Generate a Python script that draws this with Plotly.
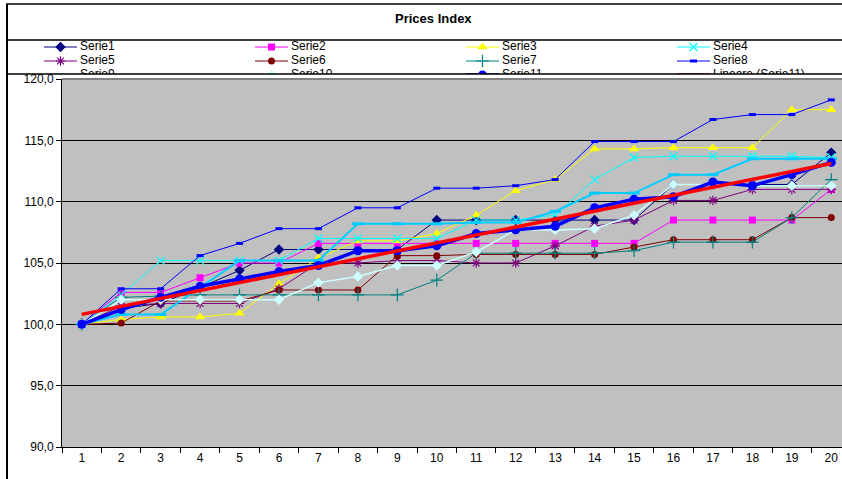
import numpy as np
import plotly.graph_objects as go

# ---- data -------------------------------------------------------------
categories = ["1", "2", "3", "4", "5", "6", "7", "8", "9", "10",
              "11", "12", "13", "14", "15", "16", "17", "18", "19", "20"]

serie1 = [100.0, 101.3, 101.7, 103.0, 104.4, 106.1, 106.1, 106.1, 106.1, 108.5,
          108.5, 108.5, 108.5, 108.5, 108.5, 111.4, 111.4, 111.4, 111.4, 114.0]
serie2 = [100.0, 102.6, 102.6, 103.8, 105.0, 105.0, 106.6, 106.6, 106.6, 106.6,
          106.6, 106.6, 106.6, 106.6, 106.6, 108.5, 108.5, 108.5, 108.5, 111.0]
serie3 = [100.0, 100.4, 100.6, 100.6, 100.9, 103.3, 105.4, 106.8, 106.8, 107.4,
          108.9, 110.9, 111.8, 114.3, 114.3, 114.4, 114.4, 114.4, 117.5, 117.5]
serie4 = [100.0, 102.4, 105.2, 105.2, 105.2, 105.2, 107.0, 107.0, 107.0, 107.0,
          108.5, 108.5, 108.9, 111.8, 113.6, 113.7, 113.7, 113.7, 113.7, 113.6]
serie5 = [100.0, 101.5, 101.7, 101.7, 101.7, 102.9, 105.0, 105.0, 105.2, 105.2,
          105.0, 105.0, 106.4, 108.0, 108.5, 110.1, 110.1, 111.0, 111.0, 111.0]
serie6 = [100.0, 100.1, 101.9, 101.9, 101.9, 102.8, 102.8, 102.8, 105.6, 105.6,
          105.7, 105.7, 105.7, 105.7, 106.3, 106.9, 106.9, 106.9, 108.7, 108.7]
serie7 = [100.0, 102.2, 102.3, 102.4, 102.4, 102.4, 102.4, 102.4, 102.4, 103.6,
          105.8, 105.8, 105.8, 105.8, 106.0, 106.7, 106.7, 106.7, 108.7, 111.8]
serie8 = [100.0, 102.9, 102.9, 105.6, 106.6, 107.8, 107.8, 109.5, 109.5, 111.1,
          111.1, 111.3, 111.8, 114.9, 114.9, 114.9, 116.7, 117.1, 117.1, 118.3]
serie9 = [100.0, 100.8, 100.8, 103.0, 105.2, 105.2, 105.2, 108.2, 108.2, 108.2,
          108.3, 108.3, 109.2, 110.7, 110.7, 112.2, 112.2, 113.5, 113.5, 113.5]
serie10 = [100.0, 102.0, 102.0, 102.0, 102.0, 102.0, 103.4, 103.9, 104.8, 104.8,
           105.9, 107.7, 107.7, 107.8, 108.9, 111.4, 111.4, 111.3, 111.3, 111.3]
serie11 = [100.0, 101.2, 102.2, 103.1, 103.7, 104.3, 104.8, 106.0, 106.0, 106.4,
           107.4, 107.7, 108.0, 109.5, 110.2, 110.4, 111.6, 111.3, 112.2, 113.2]

series_names = ["Serie1", "Serie2", "Serie3", "Serie4", "Serie5", "Serie6",
                "Serie7", "Serie8", "Serie9", "Serie10", "Serie11"]
series_values = [serie1, serie2, serie3, serie4, serie5, serie6,
                 serie7, serie8, serie9, serie10, serie11]
trend_name = "Lineare (Serie11)"

y_tick_values = [90, 95, 100, 105, 110, 115, 120]

# ---- styles -----------------------------------------------------------
# (colour, marker symbol, marker size, line width, marker line width)
styles = [
    ("#000080", "diamond", 8, 1.0, 0),
    ("#FF00FF", "square", 7, 1.0, 0),
    ("#FFFF00", "triangle-up", 9, 1.0, 0),
    ("#00FFFF", "x-thin", 8, 1.0, 1.2),
    ("#800080", "asterisk", 8, 1.0, 1.2),
    ("#800000", "circle", 7, 1.0, 0),
    ("#008080", "cross-thin", 9, 1.0, 1.2),
    ("#0000FF", "line-ew", 5, 1.0, 3),
    ("#00CCFF", "line-ew", 8, 2.0, 3),
    ("#CCFFFF", "diamond", 8, 1.5, 0),
    ("#0000FF", "circle", 9, 3.5, 0),
]
trend_color = "#FF0000"
trend_width = 3.5

FONT = "Arial, 'Liberation Sans', sans-serif"
W, H = 842, 479


def fx(p):
    return p / W


def fy(p):
    return 1 - p / H


def marker_for(style):
    color, symbol, size, _, mlw = style
    m = dict(symbol=symbol, size=size, color=color)
    if mlw:
        m["line"] = dict(color=color, width=mlw)
    else:
        m["line"] = dict(width=0)
    return m


fig = go.Figure()

# ---- series lines -----------------------------------------------------
for name, vals, st in zip(series_names, series_values, styles):
    fig.add_trace(go.Scatter(
        x=categories, y=vals, name=name, mode="lines+markers",
        line=dict(color=st[0], width=st[3]),
        marker=marker_for(st), showlegend=False,
        xaxis="x", yaxis="y",
    ))

# linear trend of Serie11
xs = np.arange(1, len(categories) + 1)
slope, intercept = np.polyfit(xs, serie11, 1)
trend = slope * xs + intercept
fig.add_trace(go.Scatter(
    x=categories, y=trend, name=trend_name, mode="lines",
    line=dict(color=trend_color, width=trend_width),
    showlegend=False, xaxis="x", yaxis="y",
))

# ---- legend drawn in its own (clipped) panel --------------------------
legend_labels = series_names + [trend_name]
legend_styles = styles + [(trend_color, None, 0, trend_width, 0)]
col_x0, col_dx = 80, 211
row_y0, row_dy = 47, 14
for i, (lab, st) in enumerate(zip(legend_labels, legend_styles)):
    col, row = i % 4, i // 4
    tx = col_x0 + col * col_dx
    ty = row_y0 + row * row_dy
    lw = st[3] if st[3] >= 2 else 1.2
    fig.add_trace(go.Scatter(
        x=[tx - 36, tx - 3], y=[ty, ty], mode="lines",
        line=dict(color=st[0], width=lw), showlegend=False,
        hoverinfo="skip", xaxis="x2", yaxis="y2", cliponaxis=True,
    ))
    if st[1]:
        fig.add_trace(go.Scatter(
            x=[tx - 19.5], y=[ty], mode="markers", marker=marker_for(st),
            showlegend=False, hoverinfo="skip", xaxis="x2", yaxis="y2",
            cliponaxis=True,
        ))
    fig.add_trace(go.Scatter(
        x=[tx], y=[ty], mode="text", text=[lab], textposition="middle right",
        textfont=dict(family=FONT, size=12, color="black"),
        showlegend=False, hoverinfo="skip", xaxis="x2", yaxis="y2",
        cliponaxis=True,
    ))

# ---- frame, plot area ------------------------------------------------
shapes = [
    # grey plot area
    dict(type="rect", xref="x domain", yref="y domain", x0=0, x1=1, y0=0, y1=1,
         fillcolor="#C0C0C0", line=dict(width=0), layer="below"),
    # top edge of the plot area
    dict(type="line", xref="x domain", yref="y domain", x0=0, x1=1, y0=1, y1=1,
         line=dict(color="#808080", width=2), layer="above"),
    # chart frame and title / legend boxes
    dict(type="line", xref="paper", yref="paper", x0=fx(6), x1=1, y0=fy(4), y1=fy(4),
         line=dict(color="black", width=1.5)),
    dict(type="line", xref="paper", yref="paper", x0=fx(6), x1=1, y0=fy(40), y1=fy(40),
         line=dict(color="black", width=1.5)),
    dict(type="line", xref="paper", yref="paper", x0=fx(6), x1=1, y0=fy(74), y1=fy(74),
         line=dict(color="black", width=1.5)),
    dict(type="line", xref="paper", yref="paper", x0=fx(7), x1=fx(7), y0=0, y1=fy(4),
         line=dict(color="black", width=2)),
]

fig.update_layout(
    width=W, height=H, autosize=False,
    margin=dict(l=0, r=0, t=0, b=0, pad=0, autoexpand=False),
    paper_bgcolor="white", plot_bgcolor="rgba(0,0,0,0)",
    separators=",.",
    font=dict(family=FONT, size=12, color="black"),
    showlegend=False,
    shapes=shapes,
    annotations=[dict(
        text="<b>Prices Index</b>", xref="paper", yref="paper",
        x=fx(433), y=fy(18), showarrow=False, xanchor="center", yanchor="middle",
        font=dict(family=FONT, size=13, color="black"),
    )],
    xaxis=dict(
        type="category", domain=[fx(62), 1], anchor="y", automargin=False,
        range=[-0.5, -0.5 + (W - 62) / 39.45],
        tickson="boundaries", ticks="outside", ticklen=5, tickcolor="black",
        showgrid=False, showline=True, linecolor="black", linewidth=1,
        tickfont=dict(family=FONT, size=12), zeroline=False,
    ),
    yaxis=dict(
        domain=[fy(447), fy(79)], anchor="x", range=[90, 120], automargin=False,
        tickvals=y_tick_values, tickformat=".1f",
        ticks="outside", ticklen=5, tickcolor="black",
        showgrid=True, gridcolor="black", gridwidth=1,
        showline=True, linecolor="black", linewidth=1, zeroline=False,
        tickfont=dict(family=FONT, size=12),
    ),
    xaxis2=dict(domain=[0, 1], anchor="y2", range=[0, W], visible=False,
                fixedrange=True, automargin=False),
    yaxis2=dict(domain=[fy(74), fy(40)], anchor="x2", range=[74, 40],
                visible=False, fixedrange=True, automargin=False),
)

fig.write_html("out.html", config={"responsive": False})
